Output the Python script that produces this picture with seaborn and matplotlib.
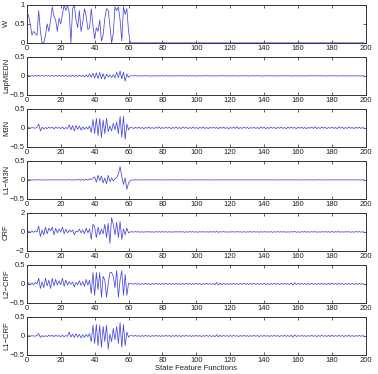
import matplotlib
matplotlib.use("Agg")
import matplotlib.pyplot as plt
import numpy as np
import seaborn as sns

# %% data (first 62 features carry the signal)
labels = ["W", "LapMEDN", "M3N", "L1\u2212M3N", "CRF", "L2\u2212CRF", "L1\u2212CRF"]
ylims = [(0, 1), (-0.5, 0.5), (-0.5, 0.5), (-0.5, 0.5), (-2, 2), (-0.5, 0.5), (-0.5, 0.5)]
yticks = [[0, 0.5, 1], [-0.5, 0, 0.5], [-0.5, 0, 0.5], [-0.5, 0, 0.5],
          [-2, 0, 2], [-0.5, 0, 0.5], [-0.5, 0, 0.5]]
xticks = [0, 20, 40, 60, 80, 100, 120, 140, 160, 180, 200]

w_head = [0.8, 0.72, 0.5, 0.2, 0.3, 0.25, 0.2, 0.85, 0.3, 0.0,
          0.0, 0.2, 0.5, 0.3, 0.6, 0.95, 0.7, 0.6, 0.3, 0.65,
          0.5, 0.75, 1.0, 0.85, 1.0, 0.8, 0.0, 0.9, 1.0, 0.6,
          0.4, 0.85, 0.3, 0.55, 0.9, 0.7, 0.35, 0.4, 0.9, 0.45,
          0.1, 0.4, 0.3, 0.6, 0.05, 0.2, 0.65, 0.9, 0.85, 0.45,
          0.0, 0.25, 0.95, 0.85, 0.95, 0.6, 0.05, 0.95, 0.75, 0.9,
          0.3, 0.0]
w_tail = [0.0] * 138

lap_head = [0.0, 0.01, -0.01, 0.01, -0.01, 0.01, -0.01, 0.015, -0.01, 0.01,
            -0.01, 0.01, -0.01, 0.01, -0.015, 0.01, -0.01, 0.01, -0.01, 0.015,
            -0.015, 0.01, -0.01, 0.015, -0.015, 0.01, -0.015, 0.02, -0.02, 0.015,
            -0.02, 0.02, -0.02, 0.02, -0.03, 0.03, -0.03, 0.05, -0.04, 0.07,
            -0.06, 0.08, -0.07, 0.09, -0.08, 0.06, -0.09, 0.05, -0.03, 0.02,
            -0.04, 0.03, -0.05, 0.1, -0.05, 0.13, -0.08, 0.1, -0.14, 0.05,
            -0.04, 0.0]
lap_tail = [0.005, -0.005, 0.008, -0.006, 0.004, -0.008, 0.006, -0.004, 0.007, -0.006,
            0.005, -0.007, 0.004, -0.005, 0.006, -0.008, 0.005, -0.004, 0.006, -0.006,
            0.008, -0.005, 0.004, -0.006, 0.005, -0.008, 0.007, -0.004, 0.006, -0.005,
            0.004, -0.007, 0.008, -0.006, 0.005, -0.004, 0.006, -0.008, 0.004, -0.005,
            0.007, -0.006, 0.005, -0.004, 0.008, -0.005, 0.006, -0.007, 0.004, -0.006,
            0.005, -0.008, 0.006, -0.004, 0.007, -0.005, 0.004, -0.006, 0.008, -0.005,
            0.006, -0.004, 0.005, -0.007, 0.004, -0.006, 0.007, -0.005, 0.006, -0.008,
            0.005, -0.004, 0.006, -0.006, 0.008, -0.005, 0.004, -0.007, 0.005, -0.006,
            0.007, -0.004, 0.006, -0.005, 0.004, -0.008, 0.006, -0.005, 0.007, -0.004,
            0.005, -0.006, 0.008, -0.005, 0.004, -0.007, 0.006, -0.004, 0.005, -0.006,
            0.007, -0.005, 0.004, -0.008, 0.006, -0.005, 0.007, -0.004, 0.005, -0.006,
            0.008, -0.005, 0.006, -0.004, 0.005, -0.007, 0.004, -0.006, 0.007, -0.005,
            0.006, -0.008, 0.005, -0.004, 0.006, -0.005, 0.007, -0.006, 0.004, -0.005,
            0.006, -0.004, 0.005, -0.007, 0.004, -0.006, 0.005, -0.004]

m3n_head = [0.0, 0.01, -0.01, 0.01, 0.0, -0.01, 0.02, 0.1, -0.08, 0.02,
            -0.03, 0.01, -0.02, 0.02, -0.01, 0.02, -0.03, 0.02, -0.01, 0.01,
            -0.02, 0.02, -0.03, 0.01, -0.02, 0.08, -0.05, 0.06, -0.08, 0.06,
            -0.04, 0.05, -0.06, 0.03, -0.04, 0.02, -0.03, 0.05, -0.12, 0.22,
            -0.15, 0.25, -0.2, 0.25, -0.25, 0.2, -0.15, 0.25, -0.1, 0.05,
            -0.08, 0.12, -0.05, 0.15, -0.15, 0.3, -0.25, 0.3, -0.3, 0.1,
            -0.05, 0.02]
m3n_tail = [0.01, -0.02, 0.015, -0.01, 0.02, -0.015, 0.01, -0.02, 0.01, -0.01,
            0.02, -0.015, 0.01, -0.02, 0.015, -0.01, 0.03, -0.02, 0.01, -0.015,
            0.02, -0.01, 0.015, -0.02, 0.01, -0.01, 0.02, -0.015, 0.01, -0.02,
            0.025, -0.01, 0.015, -0.02, 0.01, -0.015, 0.02, -0.01, 0.01, -0.02,
            0.015, -0.01, 0.02, -0.015, 0.01, -0.02, 0.015, -0.01, 0.02, -0.01,
            0.01, -0.02, 0.015, -0.01, 0.02, -0.015, 0.01, -0.02, 0.01, -0.01,
            0.02, -0.015, 0.03, -0.02, 0.01, -0.015, 0.02, -0.01, 0.015, -0.02,
            0.01, -0.01, 0.02, -0.015, 0.01, -0.02, 0.025, -0.01, 0.015, -0.02,
            0.01, -0.015, 0.02, -0.01, 0.01, -0.02, 0.015, -0.01, 0.02, -0.015,
            0.01, -0.02, 0.015, -0.01, 0.02, -0.01, 0.01, -0.02, 0.015, -0.01,
            0.02, -0.015, 0.01, -0.02, 0.01, -0.01, 0.02, -0.015, 0.03, -0.02,
            0.01, -0.015, 0.02, -0.01, 0.015, -0.02, 0.01, -0.01, 0.02, -0.015,
            0.01, -0.02, 0.025, -0.01, 0.015, -0.02, 0.01, -0.015, 0.02, -0.01,
            0.01, -0.02, 0.015, -0.01, 0.02, -0.015, 0.01, -0.01]

l1m3n_head = [0.0, 0.0, 0.003, -0.003, 0.0, 0.002, -0.002, 0.005, -0.004, 0.0,
              0.002, -0.002, 0.0, 0.002, -0.002, 0.0, 0.003, -0.003, 0.0, 0.002,
              -0.002, 0.0, 0.003, -0.003, 0.0, 0.005, -0.005, 0.003, -0.005, 0.008,
              -0.005, 0.01, -0.01, 0.015, -0.01, 0.02, -0.01, 0.03, 0.01, 0.05,
              0.08, -0.06, 0.12, -0.02, 0.1, -0.08, 0.05, -0.1, 0.12, -0.05,
              0.05, -0.03, 0.03, 0.06, 0.15, 0.35, 0.08, -0.12, 0.05, -0.25,
              -0.08, -0.02]
l1m3n_tail = [0.002, -0.003, 0.004, -0.002, 0.003, -0.004, 0.002, -0.003, 0.003, -0.002,
              0.003, -0.002, 0.004, -0.003, 0.002, -0.003, 0.004, -0.002, 0.003, -0.004,
              0.002, -0.003, 0.003, -0.002, 0.004, -0.003, 0.002, -0.004, 0.003, -0.002,
              0.004, -0.002, 0.003, -0.003, 0.002, -0.004, 0.003, -0.002, 0.004, -0.003,
              0.002, -0.003, 0.004, -0.002, 0.003, -0.004, 0.002, -0.003, 0.003, -0.002,
              0.003, -0.002, 0.004, -0.003, 0.002, -0.003, 0.004, -0.002, 0.003, -0.004,
              0.002, -0.003, 0.003, -0.002, 0.004, -0.003, 0.002, -0.004, 0.003, -0.002,
              0.004, -0.002, 0.003, -0.003, 0.002, -0.004, 0.003, -0.002, 0.004, -0.003,
              0.002, -0.003, 0.004, -0.002, 0.003, -0.004, 0.002, -0.003, 0.003, -0.002,
              0.003, -0.002, 0.004, -0.003, 0.002, -0.003, 0.004, -0.002, 0.003, -0.004,
              0.002, -0.003, 0.003, -0.002, 0.004, -0.003, 0.002, -0.004, 0.003, -0.002,
              0.004, -0.002, 0.003, -0.003, 0.002, -0.004, 0.003, -0.002, 0.004, -0.003,
              0.002, -0.003, 0.004, -0.002, 0.003, -0.004, 0.002, -0.003, 0.003, -0.002,
              0.003, -0.002, 0.004, -0.003, 0.002, -0.003, 0.004, -0.002]

crf_head = [0.0, 0.1, -0.1, 0.1, -0.05, 0.1, 0.0, 0.6, -0.5, 0.2,
            -0.3, 0.5, -0.2, 0.4, 0.1, 0.5, -0.3, 0.4, -0.1, 0.3,
            0.0, 0.5, -0.2, 0.3, -0.1, 0.2, 0.0, 0.2, -0.3, 0.1,
            0.0, 0.3, -0.1, 0.2, -0.2, 0.4, -0.1, 0.3, -0.8, 0.8,
            0.5, -0.6, 0.5, -0.3, 0.3, -0.2, 0.8, -0.6, 0.9, -1.2,
            1.5, 0.8, -0.3, 1.0, -0.6, 1.1, -0.8, 0.3, -0.3, 0.4,
            -0.1, 0.0]
crf_tail = [0.02, -0.03, 0.04, -0.02, 0.03, -0.04, 0.02, -0.03, 0.03, -0.02,
            0.04, -0.03, 0.02, -0.04, 0.03, -0.02, 0.03, -0.03, 0.04, -0.02,
            0.02, -0.03, 0.03, -0.04, 0.02, -0.02, 0.04, -0.03, 0.03, -0.02,
            0.03, -0.04, 0.02, -0.03, 0.04, -0.02, 0.03, -0.03, 0.02, -0.04,
            0.03, -0.02, 0.04, -0.03, 0.02, -0.03, 0.03, -0.02, 0.04, -0.04,
            0.06, -0.05, 0.03, -0.02, 0.04, -0.03, 0.02, -0.04, 0.03, -0.02,
            0.03, -0.03, 0.04, -0.02, 0.02, -0.04, 0.03, -0.03, 0.02, -0.02,
            0.04, -0.03, 0.03, -0.02, 0.02, -0.04, 0.03, -0.03, 0.04, -0.02,
            0.02, -0.03, 0.03, -0.04, 0.02, -0.02, 0.04, -0.03, 0.03, -0.02,
            0.03, -0.04, 0.02, -0.03, 0.04, -0.02, 0.06, -0.05, 0.02, -0.04,
            0.03, -0.02, 0.04, -0.03, 0.02, -0.03, 0.03, -0.02, 0.04, -0.04,
            0.02, -0.03, 0.03, -0.02, 0.04, -0.03, 0.02, -0.04, 0.06, -0.05,
            0.03, -0.02, 0.04, -0.03, 0.02, -0.03, 0.03, -0.02, 0.04, -0.04,
            0.02, -0.03, 0.03, -0.02, 0.04, -0.03, 0.02, -0.02]

l2crf_head = [0.0, 0.03, -0.03, 0.03, -0.02, 0.04, 0.0, 0.15, -0.12, 0.05,
              -0.1, 0.15, -0.05, 0.1, -0.12, 0.15, -0.05, 0.12, -0.03, 0.08,
              -0.02, 0.15, -0.06, 0.1, -0.03, 0.06, -0.01, 0.05, -0.08, 0.04,
              -0.02, 0.08, -0.04, 0.06, -0.06, 0.12, -0.03, 0.1, -0.25, 0.3,
              -0.3, 0.3, -0.15, 0.3, -0.35, 0.2, 0.1, -0.35, 0.0, 0.3,
              0.3, 0.2, -0.1, 0.35, -0.35, 0.1, 0.35, -0.3, 0.25, -0.3,
              0.02, 0.0]
l2crf_tail = [0.01, -0.01, 0.015, -0.01, 0.01, -0.015, 0.01, -0.01, 0.015, -0.01,
              0.01, -0.015, 0.01, -0.01, 0.015, -0.01, 0.01, -0.015, 0.01, -0.01,
              0.015, -0.01, 0.01, -0.015, 0.01, -0.01, 0.015, -0.01, 0.01, -0.015,
              0.01, -0.01, 0.015, -0.01, 0.01, -0.015, 0.01, -0.01, 0.015, -0.01,
              0.01, -0.015, 0.01, -0.01, 0.015, -0.01, 0.01, -0.015, 0.01, -0.02,
              0.04, -0.03, 0.02, -0.02, 0.015, -0.01, 0.01, -0.015, 0.01, -0.01,
              0.015, -0.01, 0.01, -0.015, 0.01, -0.01, 0.015, -0.01, 0.01, -0.015,
              0.01, -0.01, 0.015, -0.01, 0.01, -0.015, 0.01, -0.01, 0.015, -0.01,
              0.01, -0.015, 0.01, -0.01, 0.015, -0.01, 0.01, -0.015, 0.01, -0.01,
              0.015, -0.01, 0.01, -0.015, 0.02, -0.03, 0.03, -0.015, 0.01, -0.01,
              0.015, -0.01, 0.01, -0.015, 0.01, -0.01, 0.015, -0.01, 0.01, -0.015,
              0.01, -0.01, 0.015, -0.01, 0.01, -0.015, 0.02, -0.02, 0.025, -0.015,
              0.01, -0.01, 0.015, -0.01, 0.01, -0.015, 0.01, -0.01, 0.015, -0.01,
              0.01, -0.015, 0.01, -0.01, 0.015, -0.01, 0.01, -0.01]

l1crf_head = [0.0, 0.005, -0.005, 0.005, 0.0, -0.005, 0.01, 0.06, -0.04, 0.01,
              -0.02, 0.01, -0.02, 0.02, -0.01, 0.02, -0.02, 0.02, -0.01, 0.01,
              -0.02, 0.02, -0.02, 0.01, -0.01, 0.1, -0.03, 0.05, -0.04, 0.06,
              -0.03, 0.04, -0.05, 0.03, -0.04, 0.04, -0.02, 0.06, -0.15, 0.28,
              -0.2, 0.3, -0.25, 0.28, -0.3, 0.25, -0.15, 0.28, -0.35, 0.05,
              -0.15, 0.2, -0.1, 0.25, -0.2, 0.35, -0.3, 0.3, -0.25, 0.1,
              -0.03, 0.01]
l1crf_tail = [0.01, -0.01, 0.015, -0.01, 0.01, -0.015, 0.01, -0.01, 0.015, -0.01,
              0.01, -0.015, 0.01, -0.01, 0.015, -0.01, 0.01, -0.015, 0.01, -0.01,
              0.015, -0.01, 0.01, -0.015, 0.01, -0.01, 0.015, -0.01, 0.01, -0.015,
              0.01, -0.01, 0.015, -0.01, 0.01, -0.015, 0.01, -0.01, 0.015, -0.01,
              0.01, -0.015, 0.01, -0.01, 0.015, -0.01, 0.01, -0.015, 0.01, -0.02,
              0.035, -0.025, 0.02, -0.02, 0.015, -0.01, 0.01, -0.015, 0.01, -0.01,
              0.015, -0.01, 0.01, -0.015, 0.01, -0.01, 0.015, -0.01, 0.01, -0.015,
              0.01, -0.01, 0.015, -0.01, 0.01, -0.015, 0.01, -0.01, 0.015, -0.01,
              0.01, -0.015, 0.01, -0.01, 0.015, -0.01, 0.01, -0.015, 0.01, -0.01,
              0.015, -0.01, 0.01, -0.015, 0.02, -0.03, 0.03, -0.015, 0.01, -0.01,
              0.015, -0.01, 0.01, -0.015, 0.01, -0.01, 0.015, -0.01, 0.01, -0.015,
              0.01, -0.01, 0.015, -0.01, 0.01, -0.015, 0.02, -0.02, 0.025, -0.015,
              0.01, -0.01, 0.015, -0.01, 0.01, -0.015, 0.01, -0.01, 0.015, -0.01,
              0.01, -0.015, 0.01, -0.01, 0.015, -0.01, 0.01, -0.01]

series = [w_head + w_tail, lap_head + lap_tail, m3n_head + m3n_tail,
          l1m3n_head + l1m3n_tail, crf_head + crf_tail,
          l2crf_head + l2crf_tail, l1crf_head + l1crf_tail]
x = np.arange(200)

# %% plot
sns.set_style("ticks")
plt.rcParams["font.family"] = ["Liberation Sans", "DejaVu Sans"]
plt.rcParams["font.size"] = 5.5
plt.rcParams["axes.linewidth"] = 0.7
plt.rcParams["xtick.direction"] = "in"
plt.rcParams["ytick.direction"] = "in"

fig, axes = plt.subplots(7, 1, figsize=(3.78, 3.74), dpi=100)
fig.subplots_adjust(left=0.071, right=0.968, top=0.987, bottom=0.051, hspace=0.37)

for ax, vals, lab, yl, yt in zip(axes, series, labels, ylims, yticks):
    sns.lineplot(x=x, y=vals, ax=ax, color="#4646e2", linewidth=0.55)
    ax.set_xlim(0, 200)
    ax.set_ylim(*yl)
    ax.set_xticks(xticks)
    ax.set_yticks(yt)
    ax.set_yticklabels([f"{v:g}".replace("-", "\u2212") for v in yt])
    ax.tick_params(axis="both", labelsize=5.5, length=2.2, width=0.5, pad=1.5,
                   top=True, right=True, colors="#222222")
    ax.set_ylabel(lab, fontsize=5.5, color="#222222")
    ax.yaxis.set_label_coords(-0.05, 0.5)
    for sp in ax.spines.values():
        sp.set_color("#333333")

axes[-1].set_xlabel("State Feature Functions", fontsize=5.5, labelpad=0.5, color="#222222")
fig.savefig("out.png", dpi=100)
